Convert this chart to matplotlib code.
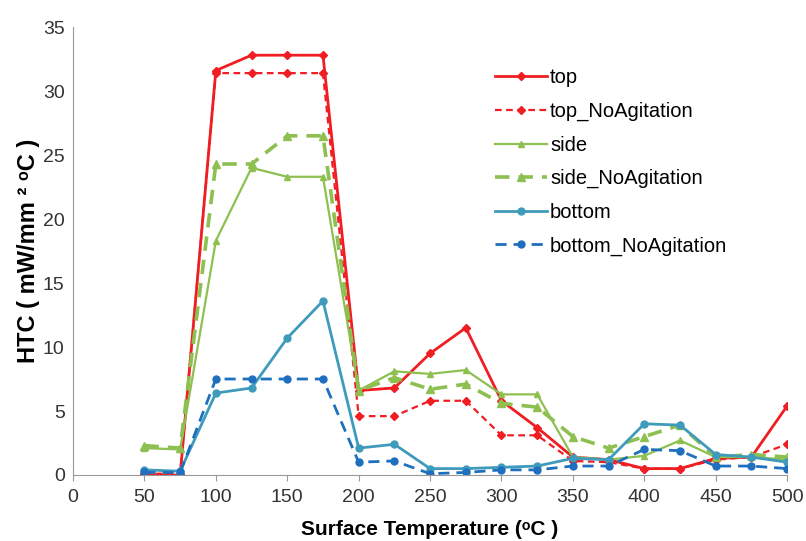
import matplotlib.pyplot as plt

# Surface temperatures (°C)
temp = [50, 75, 100, 125, 150, 175, 200, 225, 250, 275, 300, 325, 350, 375, 400, 425, 450, 475, 500]

# HTC values (mW/mm2 °C) for each face
top = [0.0, 0.0, 31.6, 32.8, 32.8, 32.8, 6.6, 6.8, 9.5, 11.5, 5.8, 3.7, 1.4, 1.2, 0.5, 0.5, 1.3, 1.4, 5.4]
top_noag = [0.1, 0.1, 31.4, 31.4, 31.4, 31.4, 4.6, 4.6, 5.8, 5.8, 3.1, 3.1, 1.1, 1.0, 0.5, 0.5, 1.2, 1.4, 2.4]
side = [2.1, 2.0, 18.3, 24.0, 23.3, 23.3, 6.6, 8.1, 7.9, 8.2, 6.3, 6.3, 1.4, 1.2, 1.5, 2.7, 1.4, 1.4, 1.2]
side_noag = [2.3, 2.1, 24.3, 24.3, 26.5, 26.5, 6.6, 7.6, 6.7, 7.1, 5.6, 5.3, 3.0, 2.1, 3.0, 3.9, 1.4, 1.6, 1.4]
bottom = [0.4, 0.3, 6.4, 6.8, 10.7, 13.6, 2.1, 2.4, 0.5, 0.5, 0.6, 0.7, 1.3, 1.2, 4.0, 3.9, 1.6, 1.4, 1.0]
bottom_noag = [0.2, 0.2, 7.5, 7.5, 7.5, 7.5, 1.0, 1.1, 0.1, 0.2, 0.4, 0.4, 0.7, 0.7, 2.0, 1.9, 0.7, 0.7, 0.5]

red = '#f01e23'
green = '#8dc050'
teal = '#3f9bbb'
blue = '#1f6fbf'

plt.rcParams['font.family'] = ['Liberation Sans', 'DejaVu Sans']

fig = plt.figure(figsize=(8.06, 5.41), dpi=100)
ax = fig.add_axes([0.0906, 0.122, 0.886, 0.828])

ax.plot(temp, top, color=red, lw=2, marker='D', ms=4, label='top')
ax.plot(temp, top_noag, color=red, lw=1.6, ls=(0, (3, 2)), marker='D', ms=4, label='top_NoAgitation')
ax.plot(temp, side, color=green, lw=1.6, marker='^', ms=5, label='side')
ax.plot(temp, side_noag, color=green, lw=2.6, ls=(0, (4, 2.5)), marker='^', ms=6, label='side_NoAgitation')
ax.plot(temp, bottom, color=teal, lw=2, marker='o', ms=5, label='bottom')
ax.plot(temp, bottom_noag, color=blue, lw=2, ls=(0, (4, 2.5)), marker='o', ms=5, label='bottom_NoAgitation')

ax.set_xlim(0, 500)
ax.set_ylim(0, 35)
ax.set_xticks(range(0, 501, 50))
ax.set_yticks(range(0, 36, 5))
for s in ['top', 'right']:
    ax.spines[s].set_visible(False)
for s in ['left', 'bottom']:
    ax.spines[s].set_color('#999999')
ax.tick_params(axis='both', labelsize=14, colors='#333333', pad=6)
ax.tick_params(axis='x', length=4, color='#999999', direction='out')
ax.tick_params(axis='y', length=0)

ax.set_xlabel('Surface Temperature (ᵒC )', fontsize=15, fontweight='bold', labelpad=10)
ax.set_ylabel('HTC ( mW/mm ² ᵒC )', fontsize=17, fontweight='bold', labelpad=2)

ax.legend(loc='upper left', bbox_to_anchor=(0.565, 0.948), frameon=False, fontsize=14.5,
          handlelength=2.6, handletextpad=0.15, labelspacing=0.72)

fig.savefig('out.png', dpi=100)
